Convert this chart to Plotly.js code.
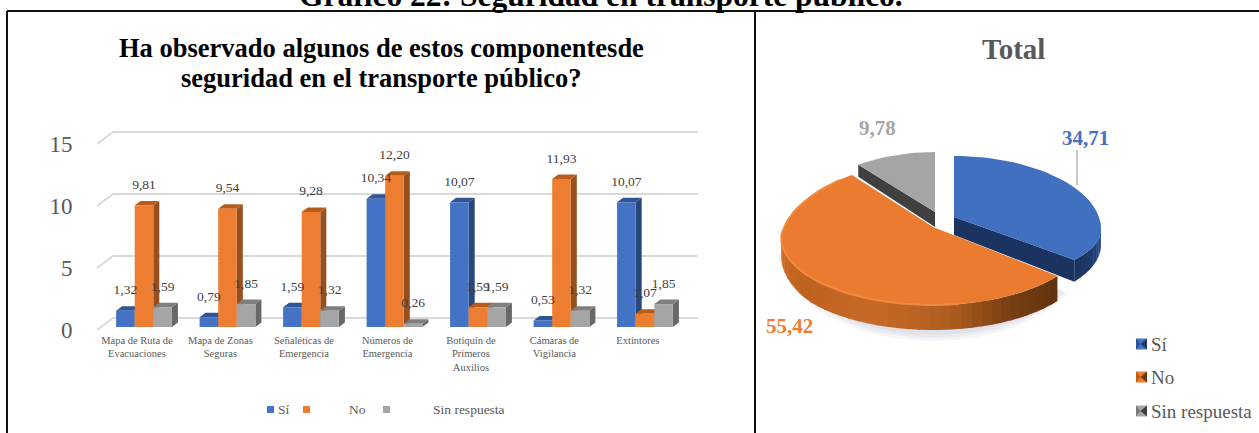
<!DOCTYPE html>
<html><head><meta charset="utf-8">
<script src="https://cdn.plot.ly/plotly-3.0.1.min.js"></script>
<style>html,body{margin:0;padding:0;background:#fff;overflow:hidden}#c{width:1259px;height:433px}</style>
</head><body><div id="c"></div>
<script>
const categories = ["Mapa de Ruta de<br>Evacuaciones","Mapa de Zonas<br>Seguras","Señaléticas de<br>Emergencia","Números de<br>Emergencia","Botiquín de<br>Primeros<br>Auxilios","Cámaras de<br>Vigilancia","Extintores"];
const si = [1.32,0.79,1.59,10.34,10.07,0.53,10.07];
const no = [9.81,9.54,9.28,12.20,1.59,11.93,1.07];
const sinRespuesta = [1.59,1.85,1.32,0.26,1.59,1.32,1.85];
const seriesNames = ["Sí","No","Sin respuesta"];
const yTicks = [0,5,10,15];
const pieValues = [34.71,55.42,9.78];

const W=1259,H=433, SERIF='"Liberation Serif","Times New Roman",serif';
const px=x=>x/W, py=y=>1-y/H;
const cols=[{f:'#4472C4',t:'#2F5597',s:'#28477A'},{f:'#ED7D31',t:'#B85C1E',s:'#96501F'},{f:'#A5A5A5',t:'#7F7F7F',s:'#686868'}];
const fmt=v=>v.toFixed(2).replace('.',',');
const xs=categories.map((_,i)=>i);
const BW=0.2228, DX=0.072, DY=0.36, LIFT=1.6;
const series=[si,no,sinRespuesta];
let traces=[], shapes=[], annotations=[];

// gridlines (behind everything)
yTicks.forEach(v=>{
  shapes.push({type:'line',layer:'below',xref:'x',yref:'y',x0:-0.563,y0:v-0.24,x1:-0.371,y1:v+0.726,line:{color:'#D9D9D9',width:2}});
  shapes.push({type:'line',layer:'below',xref:'x',yref:'y',x0:-0.371,y0:v+0.726,x1:6.635,y1:v+0.726,line:{color:'#D9D9D9',width:2}});
});
// 3D faces of bars
series.forEach((vals,k)=>{
  vals.forEach((v,i)=>{
    const l=i+(k-1.5)*BW, r=l+BW;
    shapes.push({type:'path',layer:'below',xref:'x',yref:'y',line:{width:0},fillcolor:cols[k].s,
      path:`M${r},0 L${r+DX},${DY} L${r+DX},${v+DY} L${r},${v} Z`});
    shapes.push({type:'path',layer:'below',xref:'x',yref:'y',line:{width:0},fillcolor:cols[k].t,
      path:`M${l},${v} L${l+DX},${v+DY} L${r+DX},${v+DY} L${r},${v} Z`});
  });
});
series.forEach((vals,k)=>{
  traces.push({type:'bar',name:seriesNames[k],x:xs,y:vals,marker:{color:cols[k].f},hoverinfo:'skip',showlegend:false});
});
series.forEach((vals,k)=>{
  traces.push({type:'scatter',mode:'text',x:xs.map(i=>i+(k-1)*BW),y:vals.map(v=>v+LIFT),text:vals.map(fmt),
    textposition:'middle center',textfont:{family:SERIF,size:13.5,color:'#404040'},hoverinfo:'skip',showlegend:false,cliponaxis:false});
});

// ---- exploded, tilted pie on a second pair of axes (pixel-like units)
const toRad=d=>d*Math.PI/180;
function ell(c,deg,o){const t=toRad(deg),cs=Math.cos(t),sn=Math.sin(t);
  const a=o.a-Math.max(0,cs)*o.ak, b=cs>0?o.bb:o.bf;
  return [c[0]+a*sn,c[1]+o.oy-b*cs];}
function depth(deg,o){const cs=Math.cos(toRad(deg));return o.d+Math.min(o.dk,12*Math.max(0,-cs));}
function arc(c,s,e,o){const n=Math.max(2,Math.ceil((e-s)/3)),p=[];for(let i=0;i<=n;i++)p.push(ell(c,s+(e-s)*i/n,o));return p;}
function poly(pts,color,line){traces.push({type:'scatter',xaxis:'x2',yaxis:'y2',mode:'lines',x:pts.map(p=>p[0]).concat(pts[0][0]),y:pts.map(p=>p[1]).concat(pts[0][1]),fill:'toself',fillcolor:color,line:line||{width:0},hoverinfo:'skip',showlegend:false});}
function lerp(stops,t){for(let i=0;i<stops.length-1;i++){if(t<=stops[i+1][0]){const u=(t-stops[i][0])/(stops[i+1][0]-stops[i][0]);
  const A=stops[i][1],B=stops[i+1][1];return `rgb(${A.map((x,j)=>Math.round(x+(B[j]-x)*u)).join(',')})`;}}const L=stops[stops.length-1][1];return `rgb(${L.join(',')})`;}
function rim(c,s,e,o,stops){const step=4;for(let d=s;d<e;d+=step){const d2=Math.min(e,d+step+0.6);const p1=ell(c,d,o),p2=ell(c,d2,o);
  const m=(d+d2)/2;
  poly([p1,p2,[p2[0],p2[1]+depth(d2,o)],[p1[0],p1[1]+depth(d,o)]],lerp(stops,m));}}

const total=pieValues.reduce((a,b)=>a+b,0);
const sweep=pieValues.map(v=>v/total*360);
const aBlue=[0,sweep[0]], aOr=[sweep[0],sweep[0]+sweep[1]], aGr=[sweep[0]+sweep[1],360];
const cOr=[933,227],cBl=[954,217],cGr=[935,212];
const oOr={a:152,ak:14,bb:76,bf:68,oy:10,d:18,dk:7}, oBl={a:147,ak:0,bb:74,bf:52,oy:13,d:15,dk:14}, oGr={a:133,ak:0,bb:70,bf:70,oy:10,d:15,dk:0};

// soft shadow
[[156,96,'rgba(232,232,238,0.45)'],[153,93,'rgba(222,222,230,0.45)'],[150,90,'rgba(214,214,224,0.45)']].forEach(s=>{
  const pts=[];for(let d=120;d<=265;d+=5){const t=toRad(d);pts.push([cOr[0]+s[0]*Math.sin(t),cOr[1]+18-s[1]*Math.cos(t)]);}
  poly(pts,s[2]);
});
// blue slice
{const tip=ell(cBl,aBlue[1],oBl),de=depth(aBlue[1],oBl);
 poly([cBl,tip,[tip[0],tip[1]+de],[cBl[0],cBl[1]+18]],'#1A3360');
 rim(cBl,60,aBlue[1],oBl,[[60,[70,112,190]],[85,[60,100,175]],[100,[40,70,130]],[115,[30,56,105]],[125,[26,50,94]]]);
 poly([cBl].concat(arc(cBl,aBlue[0],aBlue[1],oBl)),'#4170C0');
}
// gray slice
{const tip=ell(cGr,aGr[0],oGr),de=12;
 poly([cGr,tip,[tip[0],tip[1]+de],[cGr[0],cGr[1]+15]],'#404040');
 poly([cGr].concat(arc(cGr,aGr[0],aGr[1],oGr)),'#A5A5A5');
}
// orange slice
rim(cOr,aOr[0],272,oOr,[[125,[95,50,14]],[150,[120,62,18]],[175,[176,94,32]],[205,[200,106,38]],[235,[190,98,32]],[262,[205,105,36]],[272,[232,120,45]]]);
poly([cOr].concat(arc(cOr,aOr[0],aOr[1],oOr)),'#EB7B2E');
{const p=arc(cOr,170,aOr[1]-6,{...oOr});traces.push({type:'scatter',xaxis:'x2',yaxis:'y2',mode:'lines',x:p.map(q=>q[0]),y:p.map(q=>q[1]),line:{color:'#F08A40',width:2},hoverinfo:'skip',showlegend:false});}
// leader line
shapes.push({type:'line',xref:'x2',yref:'y2',x0:1077,y0:150,x1:1077,y1:185,line:{color:'#A6A6A6',width:1.2}});
// pie labels
[[pieValues[0],1085,138,'#4472C4'],[pieValues[1],789,326,'#ED7D31'],[pieValues[2],877,128,'#A5A5A5']].forEach(l=>{
  annotations.push({xref:'x2',yref:'y2',x:l[1],y:l[2],text:'<b>'+fmt(l[0])+'</b>',showarrow:false,xanchor:'center',yanchor:'middle',font:{family:SERIF,size:21,color:l[3]}});
});

function label(x,y,t,size,color,anchor){annotations.push({xref:'paper',yref:'paper',x:px(x),y:py(y),text:t,showarrow:false,xanchor:anchor||'center',yanchor:'middle',font:{family:SERIF,size,color},borderpad:0,captureevents:false});}
label(601,-5,'<b>Gráfico 22: Seguridad en transporte público.</b>',31.5,'#000');
label(381,48,'<b>Ha observado algunos de estos componentesde</b>',26.5,'#000');
label(381,78,'<b>seguridad en el transporte público?</b>',26.5,'#000');
label(1013,49,'<b>Total</b>',29,'#595959');

// left legend
[[267,0],[303,1],[383,2]].forEach(([x,k])=>{
  shapes.push({type:'rect',xref:'paper',yref:'paper',x0:px(x),x1:px(x+7),y0:py(413),y1:py(406),fillcolor:cols[k].f,line:{width:0}});
});
label(277,409.5,'Sí',13.5,'#595959','left');
label(348,409.5,'No',13.5,'#595959','left');
label(432,409.5,'Sin respuesta',13.5,'#595959','left');

// right legend
[[344,0,'#2F5597','#4472C4','#203864'],[377,1,'#C55A11','#ED7D31','#6B380F'],[411,2,'#7B7B7B','#A5A5A5','#404040']].forEach(([y,k,base,light,dark])=>{
  const x0=1136,x1=1147,y0=y-5.5,y1=y+5.5,xm=(x0+x1)/2-1;
  const P=(x,y)=>`${px(x)},${py(y)}`;
  shapes.push({type:'rect',xref:'paper',yref:'paper',x0:px(x0),x1:px(x1),y0:py(y1),y1:py(y0),fillcolor:light,line:{width:0}});
  shapes.push({type:'path',xref:'paper',yref:'paper',line:{width:0},fillcolor:base,path:`M${P(x0,y0)} L${P(xm,y)} L${P(x0,y1)} Z`});
  shapes.push({type:'path',xref:'paper',yref:'paper',line:{width:0},fillcolor:dark,path:`M${P(x1,y0)} L${P(xm,y)} L${P(x1,y1)} Z`});
});
label(1150,344.5,'Sí',19,'#595959','left');
label(1150,377.5,'No',19,'#595959','left');
label(1150,411.5,'Sin respuesta',19,'#595959','left');

// frames
[[7,11,1259,11],[7,11,7,433],[755,11,755,433]].forEach(l=>{
  shapes.push({type:'line',xref:'paper',yref:'paper',x0:px(l[0]),y0:py(l[1]),x1:px(l[2]),y1:py(l[3]),line:{color:'#111',width:2}});
});

const layout={width:W,height:H,margin:{l:0,r:0,t:0,b:0},paper_bgcolor:'#fff',plot_bgcolor:'rgba(0,0,0,0)',showlegend:false,
  barmode:'group',bargap:0.332,bargroupgap:0,hovermode:false,
  xaxis:{domain:[px(97),px(698)],range:[-0.563,6.635],tickmode:'array',tickvals:xs.map(i=>i-0.085),ticktext:categories,tickangle:0,
    ticks:'',showgrid:false,zeroline:false,showline:false,
    tickfont:{family:SERIF,size:10.5,color:'#595959'},anchor:'y'},
  yaxis:{domain:[py(332),py(125)],range:[-0.403,16.29],tickmode:'array',tickvals:yTicks.map(v=>v-0.24),ticktext:yTicks.map(String),
    ticks:'outside',ticklen:19,tickcolor:'rgba(0,0,0,0)',showgrid:false,zeroline:false,showline:false,
    tickfont:{family:SERIF,size:23,color:'#595959'},anchor:'x'},
  xaxis2:{domain:[px(760),1],range:[760,1259],visible:false,anchor:'y2'},
  yaxis2:{domain:[0,1],range:[433,0],visible:false,anchor:'x2'},
  shapes,annotations};
Plotly.newPlot('c',traces,layout,{displayModeBar:false,staticPlot:true});
</script></body></html>
